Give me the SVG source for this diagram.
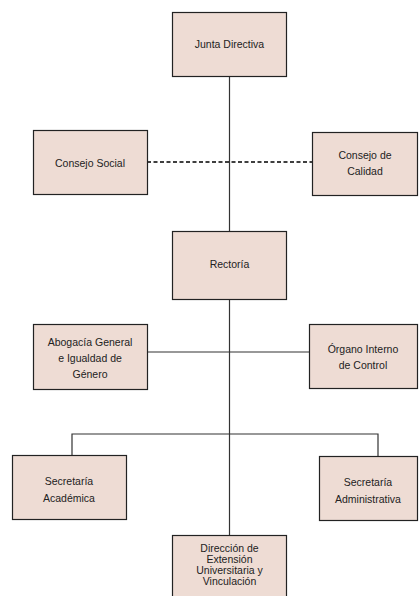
<svg xmlns="http://www.w3.org/2000/svg" width="419" height="596" viewBox="0 0 419 596">
<style>
.box{fill:#eedcd4;stroke:#222;stroke-width:1.2}
.t{font-family:"Liberation Sans",Arial,sans-serif;font-size:10.5px;fill:#222;text-anchor:middle}
.c{fill:none;stroke:#333;stroke-width:1.2}
.d{fill:none;stroke:#000;stroke-width:1.6;stroke-dasharray:4,2.5}
</style>
<rect width="419" height="596" fill="#fff"/>
<g id="connectors">
<line class="c" x1="229.5" y1="76" x2="229.5" y2="535"/>
<line class="d" x1="147" y1="162" x2="312" y2="162"/>
<line class="c" x1="147" y1="352" x2="309" y2="352"/>
<polyline class="c" points="72,456 72,434 378,434 378,456"/>
</g>
<g id="junta"><rect class="box" x="172.5" y="12.5" width="114" height="64"/><text class="t" x="229.5" y="48">Junta Directiva</text></g>
<g id="consejo-social"><rect class="box" x="33.5" y="130.5" width="114" height="64"/><text class="t" x="90" y="167">Consejo Social</text></g>
<g id="consejo-calidad"><rect class="box" x="312.5" y="132.5" width="105" height="63"/><text class="t" x="365" y="159">Consejo de</text><text class="t" x="365" y="175">Calidad</text></g>
<g id="rectoria"><rect class="box" x="172.5" y="231.5" width="114" height="68"/><text class="t" x="229.5" y="268">Rectoría</text></g>
<g id="abogacia"><rect class="box" x="33.5" y="324.5" width="114" height="65"/><text class="t" x="90" y="346">Abogacía General</text><text class="t" x="90" y="362">e Igualdad de</text><text class="t" x="90" y="378">Género</text></g>
<g id="organo"><rect class="box" x="309.5" y="324.5" width="108" height="64"/><text class="t" x="363" y="353">Órgano Interno</text><text class="t" x="363" y="369">de Control</text></g>
<g id="sec-academica"><rect class="box" x="12.5" y="455.5" width="114" height="64"/><text class="t" x="69" y="485">Secretaría</text><text class="t" x="69" y="502">Académica</text></g>
<g id="sec-administrativa"><rect class="box" x="319.5" y="456.5" width="98" height="64"/><text class="t" x="368" y="486">Secretaría</text><text class="t" x="368" y="503">Administrativa</text></g>
<g id="direccion"><rect class="box" x="172.5" y="535.5" width="114" height="64"/><text class="t" x="229.5" y="552">Dirección de</text><text class="t" x="229.5" y="563">Extensión</text><text class="t" x="229.5" y="574">Universitaria y</text><text class="t" x="229.5" y="585">Vinculación</text></g>
</svg>
